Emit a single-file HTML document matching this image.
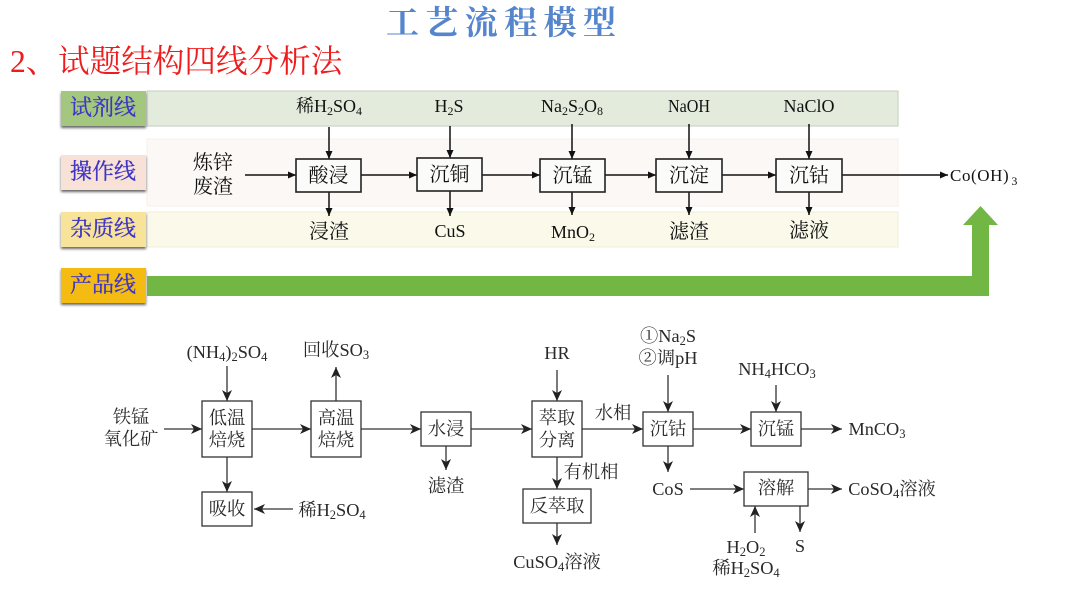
<!DOCTYPE html>
<html lang="zh">
<head>
<meta charset="utf-8">
<title>工艺流程模型</title>
<style>
html,body{margin:0;padding:0;background:#fff;width:1080px;height:608px;overflow:hidden}
svg{display:block;filter:blur(0.35px)}
text{font-family:"Liberation Serif","Noto Serif CJK SC",serif;fill:#111}
.u{font-size:18px;text-anchor:middle;fill:#111}
.c{font-size:20px;text-anchor:middle;fill:#111}
.l{font-size:18.3px;text-anchor:middle;fill:#2a2a2a}
.lab{font-size:22px;text-anchor:middle;fill:#3f35c4;stroke:#3f35c4;stroke-width:.3;font-family:"Noto Serif CJK SC",serif}
.box1{fill:#fbfbfa;stroke:#222;stroke-width:1.6}
.box2{fill:#fff;stroke:#333;stroke-width:1.3}
.a1{stroke:#111;stroke-width:1.5;fill:none}
.a2{stroke:#333;stroke-width:1.3;fill:none}
</style>
</head>
<body>
<svg width="1080" height="608" viewBox="0 0 1080 608" xmlns="http://www.w3.org/2000/svg">
<defs>
<marker id="m1" markerUnits="userSpaceOnUse" markerWidth="9" markerHeight="8" refX="8" refY="4" orient="auto"><path d="M0,0.5 L8,4 L0,7.5 Z" fill="#111"/></marker>
<marker id="m2" markerUnits="userSpaceOnUse" markerWidth="12" markerHeight="10" refX="11" refY="5" orient="auto"><path d="M0,0 L11,5 L0,10 L3,5 Z" fill="#222"/></marker>
<filter id="sh" x="-10%" y="-20%" width="120%" height="150%"><feGaussianBlur stdDeviation="1.2"/></filter>
</defs>

<text x="386" y="34" font-size="33" font-weight="bold" letter-spacing="6.4" style="fill:#5585cc;font-family:'Noto Serif CJK SC',serif">工艺流程模型</text>
<text x="10" y="72" font-size="31.600" style="fill:#ee1c1c;font-family:'Liberation Serif','Noto Serif CJK SC',serif">2、<tspan x="58">试题结构四线分析法</tspan></text>

<rect x="147" y="91" width="751" height="35" fill="#e3ecdc" stroke="#cdd3c8" stroke-width="1.2"/>
<rect x="147" y="139" width="751" height="67" fill="#fcf8f6" stroke="#f6efe8" stroke-width="1"/>
<rect x="147" y="212" width="751" height="35" fill="#fbf9ea" stroke="#f2efd8" stroke-width="1"/>

<rect x="61" y="93" width="85" height="35" fill="#666" filter="url(#sh)"/>
<rect x="61" y="91" width="85" height="35" fill="#a3c77f"/>
<rect x="61" y="157" width="85" height="35" fill="#666" filter="url(#sh)"/>
<rect x="61" y="155" width="85" height="35" fill="#f8e2d8"/>
<rect x="61" y="214" width="85" height="35" fill="#666" filter="url(#sh)"/>
<rect x="61" y="212" width="85" height="35" fill="#f8e39a"/>
<rect x="61" y="270" width="85" height="35" fill="#666" filter="url(#sh)"/>
<rect x="61" y="268" width="85" height="35" fill="#f4bb12"/>
<text class="lab" x="103" y="115">试剂线</text>
<text class="lab" x="103" y="179">操作线</text>
<text class="lab" x="103" y="236">杂质线</text>
<text class="lab" x="103" y="292">产品线</text>

<path d="M147,276 H972 V225 H963 L980.5,206 L998,225 H989 V296 H147 Z" fill="#72b743"/>

<g class="a1">
<line x1="329" y1="127" x2="329" y2="159" marker-end="url(#m1)"/>
<line x1="450" y1="126" x2="450" y2="158" marker-end="url(#m1)"/>
<line x1="572" y1="124" x2="572" y2="159" marker-end="url(#m1)"/>
<line x1="689" y1="124" x2="689" y2="159" marker-end="url(#m1)"/>
<line x1="809" y1="124" x2="809" y2="159" marker-end="url(#m1)"/>
<line x1="245" y1="175" x2="296" y2="175" marker-end="url(#m1)"/>
<line x1="361" y1="175" x2="417" y2="175" marker-end="url(#m1)"/>
<line x1="482" y1="175" x2="540" y2="175" marker-end="url(#m1)"/>
<line x1="605" y1="175" x2="656" y2="175" marker-end="url(#m1)"/>
<line x1="722" y1="175" x2="776" y2="175" marker-end="url(#m1)"/>
<line x1="842" y1="175" x2="948" y2="175" marker-end="url(#m1)"/>
<line x1="329" y1="192" x2="329" y2="216" marker-end="url(#m1)"/>
<line x1="450" y1="191" x2="450" y2="216" marker-end="url(#m1)"/>
<line x1="572" y1="191" x2="572" y2="215" marker-end="url(#m1)"/>
<line x1="689" y1="191" x2="689" y2="215" marker-end="url(#m1)"/>
<line x1="809" y1="191" x2="809" y2="215" marker-end="url(#m1)"/>
</g>
<rect class="box1" x="296" y="159" width="65" height="33"/>
<rect class="box1" x="417" y="158" width="65" height="33"/>
<rect class="box1" x="540" y="159" width="65" height="33"/>
<rect class="box1" x="656" y="159" width="66" height="33"/>
<rect class="box1" x="776" y="159" width="66" height="33"/>
<text class="c" x="328.500" y="182">酸浸</text>
<text class="c" x="449.500" y="181">沉铜</text>
<text class="c" x="572.500" y="182">沉锰</text>
<text class="c" x="689" y="182">沉淀</text>
<text class="c" x="809" y="182">沉钴</text>
<text class="c" x="213" y="169">炼锌</text>
<text class="c" x="213" y="193">废渣</text>
<text class="u" x="329" y="112">稀H<tspan font-size="12" dy="3">2</tspan><tspan dy="-3">SO</tspan><tspan font-size="12" dy="3">4</tspan></text>
<text class="u" x="449" y="112">H<tspan font-size="12" dy="3">2</tspan><tspan dy="-3">S</tspan></text>
<text class="u" x="572" y="112">Na<tspan font-size="12" dy="3">2</tspan><tspan dy="-3">S</tspan><tspan font-size="12" dy="3">2</tspan><tspan dy="-3">O</tspan><tspan font-size="12" dy="3">8</tspan></text>
<text class="u" x="689" y="112" textLength="42" lengthAdjust="spacingAndGlyphs">NaOH</text>
<text class="u" x="809" y="112">NaClO</text>
<text class="c" x="329" y="238">浸渣</text>
<text class="u" x="450" y="237">CuS</text>
<text class="u" x="573" y="238">MnO<tspan font-size="12" dy="3">2</tspan></text>
<text class="c" x="689" y="238">滤渣</text>
<text class="c" x="809" y="237">滤液</text>
<text x="950" y="181" font-size="17" letter-spacing="0.6" style="fill:#111">Co(OH)<tspan font-size="12" dy="4" dx="2">3</tspan></text>

<g class="a2">
<line x1="164" y1="429" x2="202" y2="429" marker-end="url(#m2)"/>
<line x1="252" y1="429" x2="311" y2="429" marker-end="url(#m2)"/>
<line x1="361" y1="429" x2="421" y2="429" marker-end="url(#m2)"/>
<line x1="471" y1="429" x2="532" y2="429" marker-end="url(#m2)"/>
<line x1="582" y1="429" x2="643" y2="429" marker-end="url(#m2)"/>
<line x1="693" y1="429" x2="751" y2="429" marker-end="url(#m2)"/>
<line x1="801" y1="429" x2="842" y2="429" marker-end="url(#m2)"/>
<line x1="227" y1="366" x2="227" y2="401" marker-end="url(#m2)"/>
<line x1="336" y1="401" x2="336" y2="367" marker-end="url(#m2)"/>
<line x1="227" y1="457" x2="227" y2="492" marker-end="url(#m2)"/>
<line x1="293" y1="509" x2="254" y2="509" marker-end="url(#m2)"/>
<line x1="446" y1="446" x2="446" y2="470" marker-end="url(#m2)"/>
<line x1="557" y1="370" x2="557" y2="401" marker-end="url(#m2)"/>
<line x1="557" y1="457" x2="557" y2="489" marker-end="url(#m2)"/>
<line x1="557" y1="523" x2="557" y2="545" marker-end="url(#m2)"/>
<line x1="668" y1="375" x2="668" y2="412" marker-end="url(#m2)"/>
<line x1="776" y1="385" x2="776" y2="412" marker-end="url(#m2)"/>
<line x1="668" y1="446" x2="668" y2="472" marker-end="url(#m2)"/>
<line x1="690" y1="489" x2="744" y2="489" marker-end="url(#m2)"/>
<line x1="808" y1="489" x2="842" y2="489" marker-end="url(#m2)"/>
<line x1="755" y1="533" x2="755" y2="506" marker-end="url(#m2)"/>
<line x1="800" y1="506" x2="800" y2="532" marker-end="url(#m2)"/>
</g>
<rect class="box2" x="202" y="401" width="50" height="56"/>
<rect class="box2" x="311" y="401" width="50" height="56"/>
<rect class="box2" x="421" y="412" width="50" height="34"/>
<rect class="box2" x="532" y="401" width="50" height="56"/>
<rect class="box2" x="202" y="492" width="50" height="34"/>
<rect class="box2" x="523" y="489" width="68" height="34"/>
<rect class="box2" x="643" y="412" width="50" height="34"/>
<rect class="box2" x="751" y="412" width="50" height="34"/>
<rect class="box2" x="744" y="472" width="64" height="34"/>

<text class="l" x="227" y="424">低温</text>
<text class="l" x="227" y="446">焙烧</text>
<text class="l" x="336" y="424">高温</text>
<text class="l" x="336" y="446">焙烧</text>
<text class="l" x="446" y="435">水浸</text>
<text class="l" x="557" y="424">萃取</text>
<text class="l" x="557" y="446">分离</text>
<text class="l" x="227" y="515">吸收</text>
<text class="l" x="557" y="512">反萃取</text>
<text class="l" x="668" y="435">沉钴</text>
<text class="l" x="776" y="435">沉锰</text>
<text class="l" x="776" y="494">溶解</text>
<text class="l" x="131" y="423">铁锰</text>
<text class="l" x="131" y="445">氧化矿</text>
<text class="l" x="227" y="358">(NH<tspan font-size="12.500" dy="3">4</tspan><tspan dy="-3">)</tspan><tspan font-size="12.500" dy="3">2</tspan><tspan dy="-3">SO</tspan><tspan font-size="12.500" dy="3">4</tspan></text>
<text class="l" x="336" y="356">回收SO<tspan font-size="12.500" dy="3">3</tspan></text>
<text class="l" x="332" y="516">稀H<tspan font-size="12.500" dy="3">2</tspan><tspan dy="-3">SO</tspan><tspan font-size="12.500" dy="3">4</tspan></text>
<text class="l" x="446" y="492">滤渣</text>
<text class="l" x="557" y="359">HR</text>
<text class="l" x="613" y="419">水相</text>
<text class="l" x="591" y="478">有机相</text>
<text class="l" x="557" y="568">CuSO<tspan font-size="12.500" dy="3">4</tspan><tspan dy="-3">溶液</tspan></text>
<text class="l" x="668" y="342">①Na<tspan font-size="12.500" dy="3">2</tspan><tspan dy="-3">S</tspan></text>
<text class="l" x="668" y="364">②调pH</text>
<text class="l" x="777" y="375">NH<tspan font-size="12.500" dy="3">4</tspan><tspan dy="-3">HCO</tspan><tspan font-size="12.500" dy="3">3</tspan></text>
<text class="l" x="877" y="435">MnCO<tspan font-size="12.500" dy="3">3</tspan></text>
<text class="l" x="668" y="495">CoS</text>
<text class="l" x="892" y="495">CoSO<tspan font-size="12.500" dy="3">4</tspan><tspan dy="-3">溶液</tspan></text>
<text class="l" x="746" y="553">H<tspan font-size="12.500" dy="3">2</tspan><tspan dy="-3">O</tspan><tspan font-size="12.500" dy="3">2</tspan></text>
<text class="l" x="746" y="574">稀H<tspan font-size="12.500" dy="3">2</tspan><tspan dy="-3">SO</tspan><tspan font-size="12.500" dy="3">4</tspan></text>
<text class="l" x="800" y="552">S</text>
</svg>
</body>
</html>
